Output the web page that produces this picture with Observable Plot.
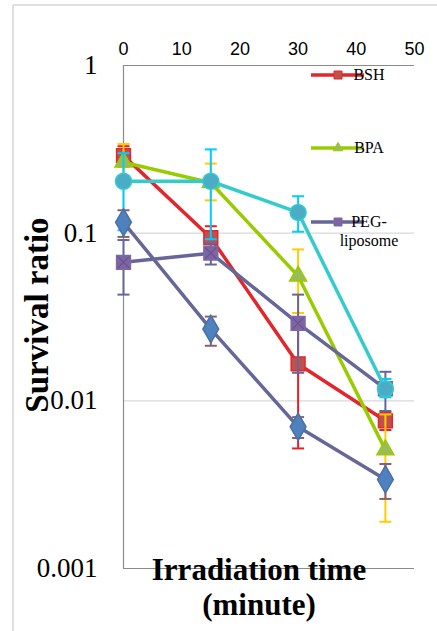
<!DOCTYPE html>
<html>
<head>
<meta charset="utf-8">
<script src="https://cdn.jsdelivr.net/npm/d3@7"></script>
<script src="https://cdn.jsdelivr.net/npm/@observablehq/plot@0.6"></script>
<style>
  html, body { margin: 0; padding: 0; background: #fff; }
  #chart { position: relative; width: 437px; height: 631px; }
</style>
</head>
<body>
<div id="chart"></div>
<script>
// ---- data ----
const times = [0, 15, 30, 45];
const xTicks = [0, 10, 20, 30, 40, 50];
const yTicks = [1, 0.1, 0.01, 0.001];
const gridValues = [0.1, 0.01];

const bshValues = [0.29, 0.094, 0.0166, 0.0076];
const bshHigh   = [0.33, 0.11, 0.028, 0.0085];
const bshLow    = [0.25, 0.078, 0.0052, 0.0067];

const bpaValues = [0.265, 0.2, 0.0555, 0.0051];
const bpaHigh   = [0.34, 0.26, 0.08, 0.0083];
const bpaLow    = [0.19, 0.157, 0.0334, 0.0019];

const pegValues = [0.067, 0.076, 0.029, 0.0118];
const pegHigh   = [0.091, 0.087, 0.043, 0.0149];
const pegLow    = [0.043, 0.065, 0.0147, 0.0087];

const cyanValues = [0.204, 0.204, 0.133, 0.0118];
const cyanHigh   = [0.3, 0.316, 0.166, 0.0135];
const cyanLow    = [0.104, 0.092, 0.102, 0.0105];

const diaValues = [0.116, 0.0268, 0.007, 0.0034];
const diaHigh   = [0.137, 0.0318, 0.008, 0.0042];
const diaLow    = [0.095, 0.0213, 0.006, 0.0026];

// ---- build tables ----
function table(vals, hi, lo) {
  return times.map((t, i) => ({t, v: vals[i], hi: hi[i], lo: lo[i]}));
}
const styles = [
  {data: table(bshValues, bshHigh, bshLow), line: "#e2262c", err: "#ee1c24", fill: "#c0504d", stroke: "#e2262c", symbol: "square", r: 7.8},
  {data: table(bpaValues, bpaHigh, bpaLow), line: "#99cc00", err: "#ffcc00", fill: "#9bbb59", stroke: "#99cc00", symbol: "triangle", r: 6.3},
  {data: table(pegValues, pegHigh, pegLow), line: "#666699", err: "#666699", fill: "#8064a2", stroke: "#7b68a6", symbol: "square", r: 7.8, cross: true},
  {data: table(cyanValues, cyanHigh, cyanLow), line: "#33cccc", err: "#00ccff", fill: "#4bacc6", stroke: "#33cccc", symbol: "circle", r: 8},
  {data: table(diaValues, diaHigh, diaLow), line: "#666699", err: "#8a6070", fill: "#4f81bd", stroke: "#4a70a8", symbol: "diamond", r: 8.3}
];

const capSymbol = {
  draw(context, size) {
    context.moveTo(-6, 0);
    context.lineTo(6, 0);
  }
};

const marks = [];
marks.push(Plot.ruleY(gridValues, {stroke: "#d9d9d9", strokeWidth: 1.2}));
marks.push(Plot.ruleY([yTicks[0], yTicks[yTicks.length - 1]], {stroke: "#8a8a8a", strokeWidth: 1.2}));
marks.push(Plot.ruleX([xTicks[0]], {stroke: "#8a8a8a", strokeWidth: 1.2}));

for (const s of styles) {
  marks.push(Plot.ruleX(s.data, {x: "t", y1: "lo", y2: "hi", stroke: s.err, strokeWidth: 2}));
  marks.push(Plot.dot(s.data, {x: "t", y: "hi", symbol: capSymbol, r: 3, fill: "none", stroke: s.err, strokeWidth: 2}));
  marks.push(Plot.dot(s.data, {x: "t", y: "lo", symbol: capSymbol, r: 3, fill: "none", stroke: s.err, strokeWidth: 2}));
  marks.push(Plot.line(s.data, {x: "t", y: "v", stroke: s.line, strokeWidth: 3.5}));
  marks.push(Plot.dot(s.data, {x: "t", y: "v", symbol: s.symbol, r: s.r, fill: s.fill, stroke: s.stroke, strokeWidth: 1.5}));
  if (s.cross) {
    marks.push(Plot.dot(s.data, {x: "t", y: "v", symbol: "times", r: 5.2, stroke: "#65558c", strokeWidth: 1.2}));
  }
}

marks.push(Plot.axisX({anchor: "top", ticks: xTicks, tickSize: 0, tickPadding: 11, fontSize: 18, fontFamily: "Liberation Sans, Arial, sans-serif", label: null}));
marks.push(Plot.axisY({ticks: yTicks, tickFormat: d => String(d), tickSize: 0, tickPadding: 26, fontSize: 27, fontFamily: "Liberation Serif, Times New Roman, serif", label: null}));

const plot = Plot.plot({
  width: 437,
  height: 631,
  marginLeft: 123,
  marginRight: 23,
  marginTop: 65,
  marginBottom: 63,
  x: {domain: [0, 50]},
  y: {type: "log", domain: [0.001, 1]},
  style: {background: "white", color: "black", overflow: "visible"},
  marks
});

document.getElementById("chart").appendChild(plot);

// ---- decorations: border, titles, legend ----
const svg = d3.select(plot);
svg.insert("line", ":first-child").attr("x1", 13).attr("x2", 13).attr("y1", 5).attr("y2", 631).attr("stroke", "#d4d4d4").attr("stroke-width", 1.5);
svg.insert("line", ":first-child").attr("x1", 13).attr("x2", 437).attr("y1", 5).attr("y2", 5).attr("stroke", "#d4d4d4").attr("stroke-width", 1.5);

const serif = "'Liberation Serif', 'Times New Roman', serif";
function title(sel) {
  return sel.attr("text-anchor", "middle").style("font-family", serif).style("font-weight", "bold").style("font-size", "31px");
}
title(svg.append("text").attr("transform", "translate(48,315) rotate(-90)")).style("font-size", "33px").text("Survival ratio");
title(svg.append("text").attr("x", 259).attr("y", 580)).text("Irradiation time");
title(svg.append("text").attr("x", 259).attr("y", 615)).text("(minute)");

const legendItems = [
  {label: ["BSH"], y: 75, s: styles[0], sym: d3.symbolSquare, size: 64},
  {label: ["BPA"], y: 148, s: styles[1], sym: d3.symbolTriangle, size: 40},
  {label: ["PEG-", "liposome"], y: 222, s: styles[2], sym: d3.symbolSquare, size: 64}
];
for (const it of legendItems) {
  const g = svg.append("g");
  g.append("line").attr("x1", 311).attr("x2", 364).attr("y1", it.y).attr("y2", it.y)
    .attr("stroke", it.s.line).attr("stroke-width", 3.5);
  g.append("path").attr("d", d3.symbol(it.sym, it.size)()).attr("transform", `translate(338,${it.y})`)
    .attr("fill", it.s.fill).attr("stroke", it.s.stroke).attr("stroke-width", 1);
  it.label.forEach((l, i) => {
    g.append("text").attr("x", 369).attr("y", it.y + 5 + i * 19)
      .style("font-family", serif).style("font-size", "16px").text(l);
  });
}
</script>
</body>
</html>
